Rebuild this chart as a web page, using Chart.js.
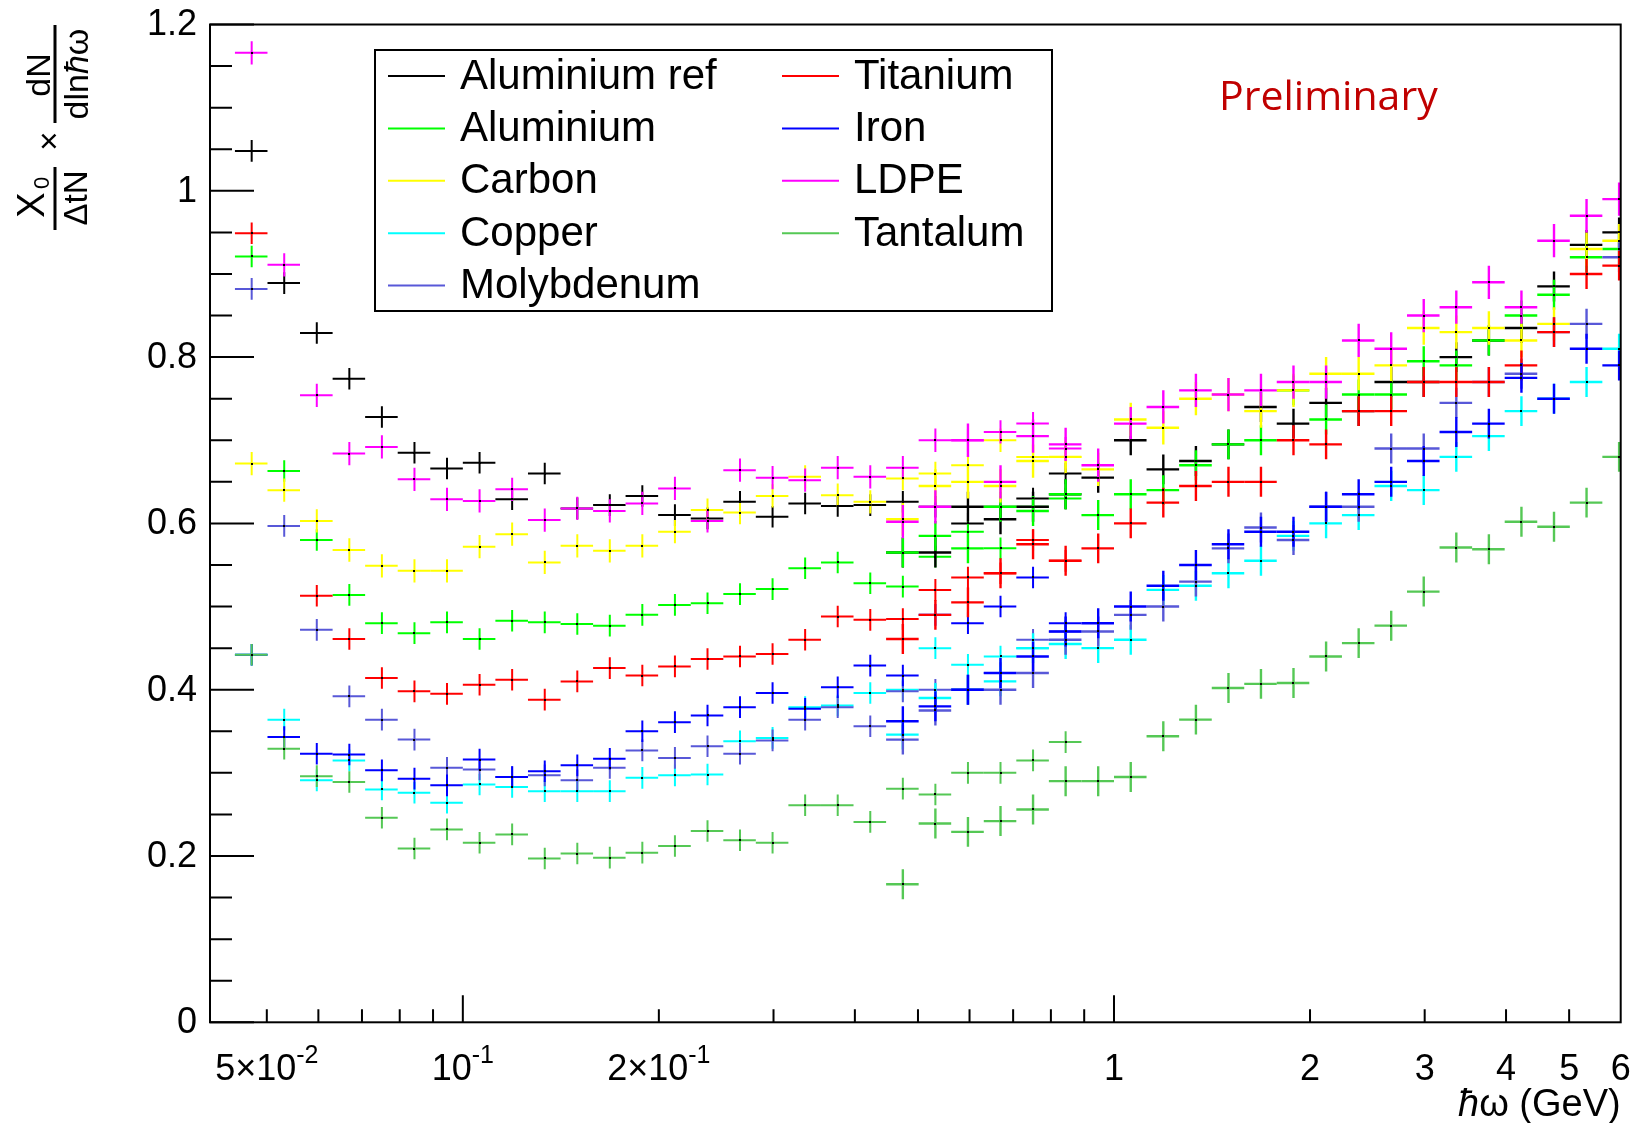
<!DOCTYPE html>
<html>
<head>
<meta charset="utf-8">
<script src="https://cdn.jsdelivr.net/npm/chart.js@4.4.1/dist/chart.umd.min.js"></script>
<style>
  html, body { margin: 0; padding: 0; background: #fff; }
  #wrap { width: 1635px; height: 1123px; }
</style>
</head>
<body>
<div id="wrap"><canvas id="chart" width="1635" height="1123"></canvas></div>
<script>
// bin edges (GeV), 20 bins per decade
const binEdges = [0.04467, 0.05012, 0.05623, 0.06310, 0.07079, 0.07943, 0.08913, 0.1000, 0.1122, 0.1259,
  0.1413, 0.1585, 0.1778, 0.1995, 0.2239, 0.2512, 0.2818, 0.3162, 0.3548, 0.3981,
  0.4467, 0.5012, 0.5623, 0.6310, 0.7079, 0.7943, 0.8913, 1.000, 1.122, 1.259,
  1.413, 1.585, 1.778, 1.995, 2.239, 2.512, 2.818, 3.162, 3.548, 3.981,
  4.467, 5.012, 5.623, 6.310];

const names  = ['Aluminium ref', 'Aluminium', 'Carbon', 'Copper', 'Molybdenum', 'Titanium', 'Iron', 'LDPE', 'Tantalum'];
const colors = ['#000000', '#00ff00', '#ffff00', '#00ffff', '#5858d8', '#ff0000', '#0000ff', '#ff00ff', '#55c855'];

// low energy set: bins 0..25
const lowAlRef = [1.048, 0.889, 0.829, 0.774, 0.728, 0.685, 0.666, 0.673, 0.629, 0.660, 0.618, 0.622, 0.633, 0.610, 0.606, 0.626, 0.608, 0.624, 0.621, 0.622, 0.626, 0.620, 0.600, 0.620, 0.630, 0.660];
const lowAl    = [0.921, 0.663, 0.580, 0.514, 0.480, 0.468, 0.481, 0.461, 0.483, 0.481, 0.479, 0.477, 0.490, 0.502, 0.504, 0.515, 0.521, 0.546, 0.553, 0.528, 0.524, 0.560, 0.590, 0.570, 0.620, 0.630];
const lowC     = [0.672, 0.640, 0.603, 0.568, 0.549, 0.543, 0.543, 0.572, 0.587, 0.553, 0.573, 0.567, 0.573, 0.590, 0.616, 0.613, 0.633, 0.656, 0.634, 0.626, 0.654, 0.660, 0.670, 0.700, 0.680, 0.680];
const lowCu    = [0.442, 0.364, 0.291, 0.315, 0.280, 0.276, 0.264, 0.286, 0.283, 0.278, 0.278, 0.278, 0.294, 0.297, 0.298, 0.338, 0.342, 0.379, 0.381, 0.396, 0.400, 0.450, 0.430, 0.440, 0.450, 0.455];
const lowMo    = [0.882, 0.597, 0.472, 0.392, 0.364, 0.340, 0.306, 0.304, 0.295, 0.297, 0.291, 0.306, 0.327, 0.318, 0.332, 0.323, 0.339, 0.364, 0.379, 0.356, 0.398, 0.400, 0.400, 0.420, 0.460, 0.470];
const lowTi    = [0.949, null, 0.513, 0.461, 0.414, 0.398, 0.395, 0.406, 0.412, 0.388, 0.410, 0.426, 0.417, 0.428, 0.437, 0.440, 0.443, 0.460, 0.488, 0.484, 0.485, 0.520, 0.535, 0.540, 0.580, 0.555];
const lowFe    = [0.442, 0.343, 0.323, 0.322, 0.303, 0.293, 0.285, 0.316, 0.295, 0.302, 0.309, 0.317, 0.350, 0.361, 0.369, 0.379, 0.396, 0.377, 0.403, 0.429, 0.417, 0.490, 0.480, 0.500, 0.535, 0.480];
const lowLDPE  = [1.166, 0.911, 0.754, 0.684, 0.692, 0.653, 0.629, 0.627, 0.641, 0.604, 0.618, 0.615, 0.624, 0.642, 0.603, 0.664, 0.655, 0.652, 0.667, 0.656, 0.667, 0.700, 0.700, 0.710, 0.720, 0.690];
const lowTa    = [0.442, 0.329, 0.296, 0.289, 0.246, 0.209, 0.232, 0.216, 0.226, 0.197, 0.203, 0.198, 0.204, 0.212, 0.230, 0.219, 0.216, 0.261, 0.261, 0.241, 0.281, 0.274, 0.300, 0.300, 0.315, 0.337];

// high energy set: bins 20..42
const highAlRef = [0.565, 0.565, 0.620, 0.605, 0.620, 0.635, 0.655, 0.700, 0.665, 0.675, 0.695, 0.740, 0.720, 0.745, 0.735, 0.770, 0.770, 0.800, 0.820, 0.835, 0.885, 0.935, 0.950];
const highAl    = [0.565, 0.585, 0.570, 0.620, 0.615, 0.635, 0.610, 0.635, 0.640, 0.670, 0.695, 0.700, 0.760, 0.725, 0.755, 0.755, 0.795, 0.790, 0.820, 0.850, 0.875, 0.920, 0.930];
const highC     = [0.605, 0.645, 0.650, 0.645, 0.675, 0.680, 0.665, 0.725, 0.715, 0.750, 0.755, 0.735, 0.760, 0.780, 0.780, 0.790, 0.835, 0.830, 0.835, 0.820, 0.840, 0.930, 0.940];
const highCu    = [0.346, 0.390, 0.400, 0.410, 0.450, 0.455, 0.450, 0.460, 0.520, 0.525, 0.540, 0.555, 0.585, 0.600, 0.610, 0.645, 0.640, 0.680, 0.705, 0.735, 0.750, 0.770, 0.810];
const highMo    = [0.340, 0.375, 0.400, 0.400, 0.420, 0.460, 0.470, 0.490, 0.500, 0.530, 0.570, 0.595, 0.580, 0.620, 0.620, 0.690, 0.690, 0.745, 0.770, 0.780, 0.830, 0.840, 0.920];
const highTi    = [0.461, 0.490, 0.505, 0.540, 0.575, 0.555, 0.570, 0.600, 0.625, 0.645, 0.650, 0.650, 0.700, 0.695, 0.735, 0.735, 0.770, 0.770, 0.770, 0.790, 0.830, 0.900, 0.910];
const highFe    = [0.362, 0.380, 0.400, 0.420, 0.440, 0.470, 0.480, 0.500, 0.525, 0.550, 0.575, 0.590, 0.590, 0.620, 0.635, 0.650, 0.675, 0.710, 0.720, 0.775, 0.750, 0.810, 0.790];
const highLDPE  = [0.602, 0.620, 0.700, 0.650, 0.705, 0.695, 0.670, 0.720, 0.740, 0.760, 0.755, 0.760, 0.770, 0.770, 0.820, 0.810, 0.850, 0.860, 0.890, 0.860, 0.940, 0.970, 0.990];
const highTa    = [0.166, 0.239, 0.229, 0.242, 0.256, 0.290, 0.290, 0.295, 0.344, 0.364, 0.402, 0.407, 0.408, 0.440, 0.456, 0.477, 0.518, 0.571, 0.569, 0.602, 0.596, 0.625, 0.680];

const lowSets  = [lowAlRef, lowAl, lowC, lowCu, lowMo, lowTi, lowFe, lowLDPE, lowTa];
const highSets = [highAlRef, highAl, highC, highCu, highMo, highTi, highFe, highLDPE, highTa];
const lowStart = 0, highStart = 20;
const lowErr  = [0.013, 0.013, 0.014, 0.013, 0.013, 0.013, 0.013, 0.014, 0.013];
const highErr = [0.018, 0.018, 0.020, 0.018, 0.018, 0.018, 0.018, 0.020, 0.018];

const yMajor = [0, 0.2, 0.4, 0.6, 0.8, 1.0, 1.2];
const yMajorLabels = ['0', '0.2', '0.4', '0.6', '0.8', '1', '1.2'];
const yMinor = [0.05, 0.1, 0.15, 0.25, 0.3, 0.35, 0.45, 0.5, 0.55, 0.65, 0.7, 0.75, 0.85, 0.9, 0.95, 1.05, 1.1, 1.15];
const xMajor = [0.1, 1];
const xMinor = [0.05, 0.06, 0.07, 0.08, 0.09, 0.2, 0.3, 0.4, 0.5, 0.6, 0.7, 0.8, 0.9, 2, 3, 4, 5];
const xLabels = [[0.05, '5\u00d710', '-2'], [0.1, '10', '-1'], [0.2, '2\u00d710', '-1'], [1, '1', ''],
  [2, '2', ''], [3, '3', ''], [4, '4', ''], [5, '5', ''], [6, '6', '']];

function makePoints(vals, start) {
  const pts = [];
  vals.forEach((v, i) => {
    if (v === null) return;
    const k = start + i;
    const lo = binEdges[k], hi = binEdges[k + 1];
    pts.push({ x: (lo + hi) / 2, y: v, xl: lo, xh: hi });
  });
  return pts;
}

const datasets = [];
names.forEach((n, i) => {
  datasets.push({ label: n, data: makePoints(lowSets[i], lowStart), color: colors[i], err: lowErr[i], lw: 2, pointRadius: 0, showLine: false });
});
names.forEach((n, i) => {
  datasets.push({ label: n + ' (high)', data: makePoints(highSets[i], highStart), color: colors[i], err: highErr[i], lw: 2.4, pointRadius: 0, showLine: false });
});

const FONT = '"Liberation Sans", Arial, Helvetica, sans-serif';

// draws a run of [text, italic] pieces centred on x
function drawRun(ctx, pieces, x, y, size) {
  let w = 0;
  pieces.forEach(([t, it]) => { ctx.font = (it ? 'italic ' : '') + size + 'px ' + FONT; w += ctx.measureText(t).width; });
  let cx = x - w / 2;
  ctx.textAlign = 'left';
  pieces.forEach(([t, it]) => {
    ctx.font = (it ? 'italic ' : '') + size + 'px ' + FONT;
    ctx.fillText(t, cx, y);
    cx += ctx.measureText(t).width;
  });
}

const rootStyle = {
  id: 'rootStyle',
  beforeDraw(chart) {
    const ctx = chart.ctx;
    ctx.save();
    ctx.fillStyle = '#fff';
    ctx.fillRect(0, 0, chart.width, chart.height);
    ctx.restore();
  },
  afterDatasetsDraw(chart) {
    const ctx = chart.ctx, a = chart.chartArea;
    const xs = chart.scales.x, ys = chart.scales.y;

    // error crosses
    ctx.save();
    ctx.beginPath();
    ctx.rect(a.left, a.top, a.right - a.left, a.bottom - a.top);
    ctx.clip();
    chart.data.datasets.forEach(ds => {
      ctx.strokeStyle = ds.color;
      ctx.lineWidth = ds.lw;
      ds.data.forEach(p => {
        const x0 = xs.getPixelForValue(p.xl), x1 = xs.getPixelForValue(p.xh);
        const xc = xs.getPixelForValue(p.x), yc = ys.getPixelForValue(p.y);
        const y0 = ys.getPixelForValue(p.y - ds.err), y1 = ys.getPixelForValue(p.y + ds.err);
        ctx.beginPath();
        ctx.moveTo(x0, yc); ctx.lineTo(x1, yc);
        ctx.moveTo(xc, y0); ctx.lineTo(xc, y1);
        ctx.stroke();
      });
    });
    ctx.fillStyle = '#000';
    chart.data.datasets.forEach(ds => {
      ds.data.forEach(p => {
        const xc = xs.getPixelForValue(p.x), yc = ys.getPixelForValue(p.y);
        ctx.fillRect(Math.round(xc) - 1, Math.round(yc) - 1, 2, 2);
      });
    });
    ctx.restore();

    // frame
    ctx.save();
    ctx.strokeStyle = '#000';
    ctx.lineWidth = 2;
    ctx.strokeRect(a.left, a.top, a.right - a.left, a.bottom - a.top);

    // y ticks
    ctx.beginPath();
    yMajor.forEach(v => { const y = ys.getPixelForValue(v); ctx.moveTo(a.left, y); ctx.lineTo(a.left + 44, y); });
    yMinor.forEach(v => { const y = ys.getPixelForValue(v); ctx.moveTo(a.left, y); ctx.lineTo(a.left + 22, y); });
    // x ticks
    xMajor.forEach(v => { const x = xs.getPixelForValue(v); ctx.moveTo(x, a.bottom); ctx.lineTo(x, a.bottom - 27); });
    xMinor.forEach(v => { const x = xs.getPixelForValue(v); ctx.moveTo(x, a.bottom); ctx.lineTo(x, a.bottom - 13); });
    ctx.stroke();

    // y labels
    ctx.fillStyle = '#000';
    ctx.font = '36px ' + FONT;
    ctx.textAlign = 'right';
    ctx.textBaseline = 'middle';
    yMajor.forEach((v, i) => ctx.fillText(yMajorLabels[i], a.left - 13, ys.getPixelForValue(v) + 1));

    // x labels
    ctx.textBaseline = 'alphabetic';
    ctx.textAlign = 'left';
    xLabels.forEach(([v, base, ex]) => {
      ctx.font = '36px ' + FONT;
      const wb = ctx.measureText(base).width;
      ctx.font = '25px ' + FONT;
      const we = ex ? ctx.measureText(ex).width : 0;
      const x = xs.getPixelForValue(v) - (wb + we) / 2;
      ctx.font = '36px ' + FONT;
      ctx.fillText(base, x, 1080);
      if (ex) { ctx.font = '25px ' + FONT; ctx.fillText(ex, x + wb, 1063); }
    });

    // x title
    ctx.textAlign = 'right';
    ctx.font = '38px ' + FONT;
    const tw = ctx.measureText('\u03c9 (GeV)').width;
    ctx.fillText('\u03c9 (GeV)', a.right, 1116);
    ctx.font = 'italic 38px ' + FONT;
    ctx.fillText('\u0127', a.right - tw, 1116);

    // y title (rotated fractions)
    ctx.translate(55, 230);
    ctx.rotate(-Math.PI / 2);
    ctx.lineWidth = 3;
    ctx.beginPath();
    ctx.moveTo(0, 0); ctx.lineTo(63, 0);
    ctx.moveTo(107, 0); ctx.lineTo(205, 0);
    ctx.stroke();
    ctx.textAlign = 'center';
    ctx.textBaseline = 'alphabetic';
    ctx.font = '38px ' + FONT;
    ctx.fillText('X', 25, -11);
    ctx.font = '22px ' + FONT;
    ctx.fillText('0', 47, -6);
    ctx.font = '33px ' + FONT;
    ctx.textBaseline = 'top';
    ctx.fillText('\u0394tN', 32, 6);
    ctx.textBaseline = 'middle';
    ctx.fillText('\u00d7', 89, -4);
    ctx.textBaseline = 'alphabetic';
    ctx.font = '34px ' + FONT;
    ctx.fillText('dN', 155, -5);
    ctx.textBaseline = 'top';
    drawRun(ctx, [['dln', false], ['\u0127', true], ['\u03c9', false]], 156, 7, 34);
    ctx.restore();

    // legend
    ctx.save();
    ctx.fillStyle = '#fff';
    ctx.fillRect(375, 50, 677, 261);
    ctx.strokeStyle = '#000';
    ctx.lineWidth = 2;
    ctx.strokeRect(375, 50, 677, 261);
    ctx.font = '42px ' + FONT;
    ctx.textBaseline = 'middle';
    ctx.textAlign = 'left';
    names.forEach((n, i) => {
      const col = i < 5 ? 0 : 1, row = i < 5 ? i : i - 5;
      const lx = col === 0 ? 388 : 782;
      const y = 76 + row * 52.4;
      ctx.strokeStyle = colors[i];
      ctx.lineWidth = 2;
      ctx.beginPath(); ctx.moveTo(lx, y); ctx.lineTo(lx + 57, y); ctx.stroke();
      ctx.fillStyle = '#000';
      ctx.fillText(n, lx + 72, y + 1);
    });

    // preliminary
    ctx.fillStyle = '#c00000';
    ctx.font = '41px "Open Sans", sans-serif';
    ctx.textAlign = 'left';
    ctx.textBaseline = 'alphabetic';
    ctx.fillText('Preliminary', 1219, 110);
    ctx.restore();
  }
};

new Chart(document.getElementById('chart'), {
  type: 'scatter',
  data: { datasets },
  options: {
    responsive: false,
    animation: false,
    devicePixelRatio: 1,
    layout: { padding: { top: 24.5, right: 14.3, left: 0, bottom: 0 } },
    plugins: { legend: { display: false }, tooltip: { enabled: false } },
    scales: {
      x: {
        type: 'logarithmic', min: 0.0409, max: 6.0,
        ticks: { display: false }, grid: { display: false }, border: { display: false },
        afterFit(s) { s.height = 100.7; }
      },
      y: {
        type: 'linear', min: 0, max: 1.2,
        ticks: { display: false }, grid: { display: false }, border: { display: false },
        afterFit(s) { s.width = 210; }
      }
    }
  },
  plugins: [rootStyle]
});
</script>
</body>
</html>
